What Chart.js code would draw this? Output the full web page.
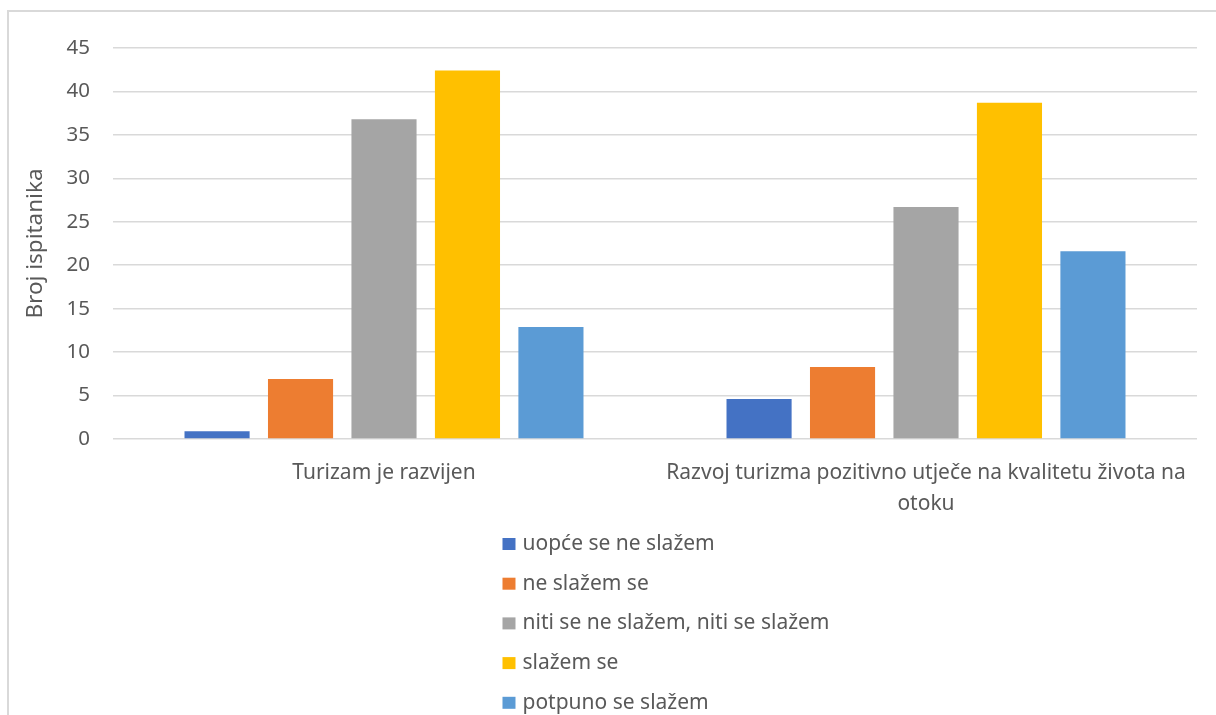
<!DOCTYPE html>
<html>
<head>
<meta charset="utf-8">
<script src="https://cdn.jsdelivr.net/npm/chart.js@4"></script>
<style>
  html, body { margin: 0; padding: 0; background: #fff; }
  #frame { position: absolute; left: 7px; top: 10px; width: 1300px; height: 800px;
           border-left: 2px solid #d9d9d9; border-top: 2px solid #d9d9d9; }
  #wrap { position: absolute; left: 0; top: 0; width: 1216px; height: 715px; }
</style>
</head>
<body>
<div id="frame"></div>
<div id="wrap"><canvas id="myChart"></canvas></div>
<script>
const categories = [
  'Turizam je razvijen',
  ['Razvoj turizma pozitivno utječe na kvalitetu života na', 'otoku']
]
const seriesNames = [
  'uopće se ne slažem',
  'ne slažem se',
  'niti se ne slažem, niti se slažem',
  'slažem se',
  'potpuno se slažem'
]
const seriesColors = ['#4472C4', '#ED7D31', '#A5A5A5', '#FFC000', '#5B9BD5']
const uopceSeNeSlazem = [0.9, 4.6]
const neSlazemSe = [6.9, 8.3]
const nitiNiti = [36.8, 26.7]
const slazemSe = [42.4, 38.7]
const potpunoSeSlazem = [12.9, 21.6]
const seriesValues = [uopceSeNeSlazem, neSlazemSe, nitiNiti, slazemSe, potpunoSeSlazem]

const FONT = 'Noto Sans'
const TEXT = '#595959'

// legend drawn as a single column below the plot
const columnLegend = {
  id: 'columnLegend',
  afterDraw(chart) {
    const ctx = chart.ctx
    const area = chart.chartArea
    ctx.save()
    ctx.font = '21px "' + FONT + '"'
    let maxW = 0
    chart.data.datasets.forEach(ds => { maxW = Math.max(maxW, ctx.measureText(ds.label).width) })
    const blockW = 13 + 7 + maxW
    const left = (area.left + area.right) / 2 + 11 - blockW / 2
    ctx.textBaseline = 'middle'
    ctx.textAlign = 'left'
    chart.data.datasets.forEach((ds, i) => {
      const y = 544 + i * 39.7
      ctx.fillStyle = ds.backgroundColor
      ctx.fillRect(left, y - 6, 13, 12)
      ctx.fillStyle = TEXT
      ctx.fillText(ds.label, left + 20, y)
    })
    ctx.restore()
  }
}

const ctx = document.getElementById('myChart')
const myChart = new Chart(ctx, {
  type: 'bar',
  data: {
    labels: categories,
    datasets: seriesNames.map((name, i) => ({
      label: name,
      data: seriesValues[i],
      backgroundColor: seriesColors[i],
      categoryPercentage: 0.77,
      barPercentage: 0.78
    }))
  },
  options: {
    responsive: true,
    maintainAspectRatio: false,
    animation: false,
    layout: { padding: { left: 20, right: 19, top: 48, bottom: 196 } },
    plugins: {
      legend: { display: false },
      tooltip: { enabled: false }
    },
    scales: {
      x: {
        grid: { display: false },
        border: { display: false },
        ticks: { color: TEXT, font: { family: FONT, size: 21, lineHeight: 1.45 }, padding: 11, maxRotation: 0 },
        afterFit: s => { s.height = 80 }
      },
      y: {
        min: 0,
        max: 45,
        ticks: { stepSize: 5, color: TEXT, font: { family: FONT, size: 20.5 }, padding: 23 },
        grid: { color: '#d9d9d9', lineWidth: 1.5, drawTicks: false },
        border: { display: false },
        title: { display: true, text: 'Broj ispitanika', color: TEXT, font: { family: FONT, size: 22.5 }, padding: 2 },
        afterFit: s => { s.width = 93 }
      }
    }
  },
  plugins: [columnLegend]
})
</script>
</body>
</html>
